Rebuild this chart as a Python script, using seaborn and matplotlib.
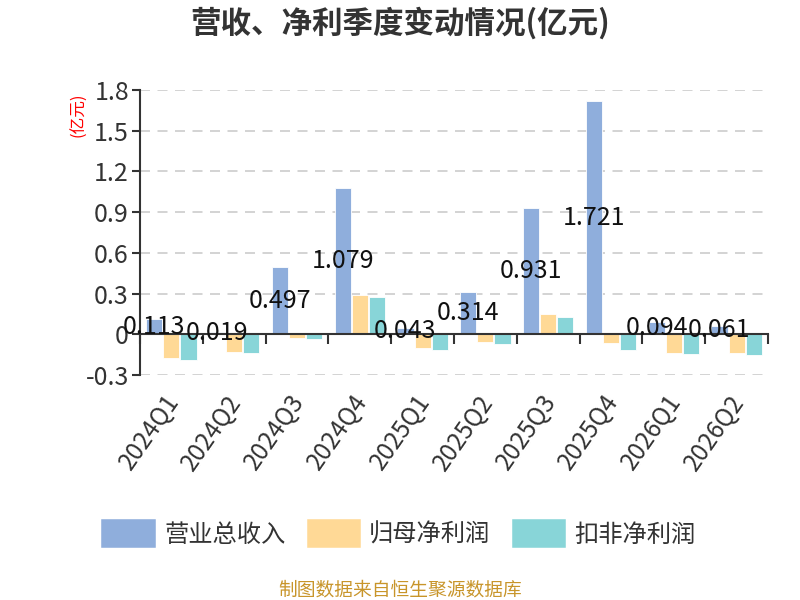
import numpy as np
import pandas as pd
import matplotlib
matplotlib.use("Agg")
import matplotlib.pyplot as plt
import matplotlib.transforms as mtransforms
import seaborn as sns
from matplotlib.patches import Patch

quarters = ["2024Q1", "2024Q2", "2024Q3", "2024Q4", "2025Q1",
            "2025Q2", "2025Q3", "2025Q4", "2026Q1", "2026Q2"]
revenue = [0.113, 0.019, 0.497, 1.079, 0.043, 0.314, 0.931, 1.721, 0.094, 0.061]
net_profit = [-0.178, -0.130, -0.025, 0.290, -0.100, -0.060, 0.150, -0.065, -0.135, -0.140]
deducted_profit = [-0.186, -0.135, -0.035, 0.275, -0.118, -0.070, 0.130, -0.115, -0.145, -0.150]
series_names = ["营业总收入", "归母净利润", "扣非净利润"]
colors = ["#8FAEDC", "#FFD996", "#88D5D8"]
yticks = [-0.3, 0, 0.3, 0.6, 0.9, 1.2, 1.5, 1.8]
ytick_labels = ["-0.3", "0", "0.3", "0.6", "0.9", "1.2", "1.5", "1.8"]

sns.set_theme(style="white")
plt.rcParams['font.family'] = ['Noto Sans CJK SC', 'DejaVu Sans']
plt.rcParams['axes.unicode_minus'] = False

df = pd.DataFrame({
    "quarter": quarters * 3,
    "value": revenue + net_profit + deducted_profit,
    "series": [series_names[0]] * 10 + [series_names[1]] * 10 + [series_names[2]] * 10,
})

fig = plt.figure(figsize=(8, 6), dpi=100)
ax = fig.add_axes([140 / 800, 1 - 375 / 600, 628 / 800, 285 / 600])

sns.barplot(data=df, x="quarter", y="value", hue="series", order=quarters,
            hue_order=series_names, palette=colors, saturation=1, width=0.82, gap=0.06,
            edgecolor="white", linewidth=0.6, ax=ax, legend=False)

ax.set_xlim(-0.5, 9.5)
ax.set_ylim(-0.3, 1.8)
ax.set_xlabel("")
ax.set_ylabel("")

# grid
for yv in yticks:
    if yv != 0:
        ax.axhline(yv, color="#cccccc", linestyle=(0, (6, 4.5)), linewidth=1.2, zorder=0)

# spines
for s in ["top", "right"]:
    ax.spines[s].set_visible(False)
ax.spines["left"].set_color("#333333")
ax.spines["left"].set_linewidth(1.5)
ax.spines["bottom"].set_position(("data", 0))
ax.spines["bottom"].set_color("#333333")
ax.spines["bottom"].set_linewidth(1.5)
ax.set_axisbelow(False)

ax.set_yticks(yticks)
ax.set_yticklabels(ytick_labels)
ax.tick_params(axis="y", direction="out", length=6, width=1.5, color="#333333",
               labelsize=18, labelcolor="#333333", left=True, pad=2)

ax.set_xticks(range(len(quarters)))
ax.set_xticklabels(quarters, rotation=55, ha="right", rotation_mode="anchor")
ax.set_xticks(np.arange(-0.5, 10, 1), minor=True)
ax.tick_params(axis="x", which="major", length=0, labelsize=17.5, labelcolor="#333333", pad=40)
ax.tick_params(axis="x", which="minor", direction="out", length=7, width=1.5,
               color="#333333", bottom=True)
offset = mtransforms.ScaledTranslation(-8 / 100, 0, fig.dpi_scale_trans)
for lab in ax.get_xticklabels():
    lab.set_transform(lab.get_transform() + offset)

# value labels at mid of revenue bars
rev_bars = ax.containers[0]
for bar, v in zip(rev_bars, revenue):
    cx = bar.get_x() + bar.get_width() / 2
    ax.text(cx, v / 2, f"{v:.3f}", ha="center", va="center", fontsize=18,
            color="#111111", zorder=5)

# y-axis unit
fig.text(79 / 800, 1 - 115 / 600, "(亿元)", rotation=90, color="red",
         fontsize=12, ha="center", va="center")

# title
fig.text(0.5, 1 - 23 / 600, "营收、净利季度变动情况(亿元)", ha="center", va="center",
         fontsize=22, fontweight="bold", color="#333333")

# legend
handles = [Patch(facecolor=c, edgecolor=c, linewidth=4, joinstyle="round") for c in colors]
fig.legend(handles, series_names, loc="center", bbox_to_anchor=(0.5, 1 - 535 / 600),
           ncol=3, frameon=False, fontsize=17.5, handlelength=2.0, handleheight=1.1,
           handletextpad=0.45, columnspacing=1.0, labelcolor="#333333")

# source
fig.text(0.5, 1 - 590 / 600, "制图数据来自恒生聚源数据库", ha="center", va="center",
         fontsize=13.5, color="#C8952A")

fig.savefig("out.png", dpi=100)
